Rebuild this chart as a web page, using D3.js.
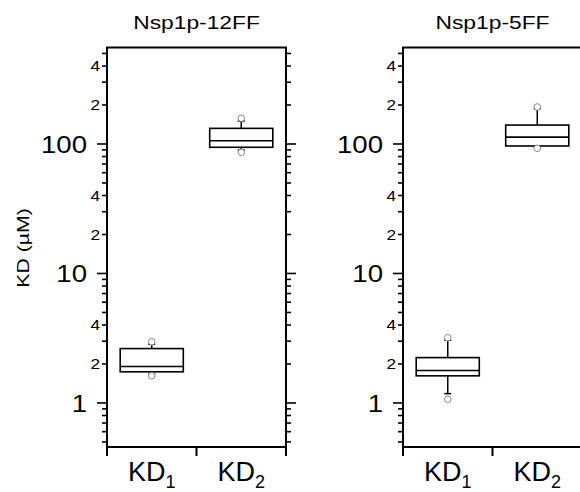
<!DOCTYPE html>
<html>
<head>
<meta charset="utf-8">
<script src="https://cdn.jsdelivr.net/npm/d3@7"></script>
<style>
  html, body { margin: 0; padding: 0; background: #fff; }
  svg { display: block; }
  text { font-family: "Liberation Sans", Arial, Helvetica, sans-serif; fill: #000; }
</style>
</head>
<body>
<svg id="chart" width="580" height="492"></svg>
<script>
// Binding constants measured by titration, shown for two Nsp1p constructs
const panels = ["Nsp1p-12FF", "Nsp1p-5FF"];
const categories = ["KD1", "KD2"];
const categoryLabels = [["KD", "1"], ["KD", "2"]];

// Box statistics per panel, per category:
// [low outlier, lower whisker, Q1, median, Q3, upper whisker, high outlier]
const stats12FF = [
  [1.62, 1.67, 1.74, 1.91, 2.63, 2.84, 2.97],
  [86.3, 89.9, 94.3, 106, 132, 150.6, 158]
];
const stats5FF = [
  [1.07, 1.18, 1.62, 1.78, 2.24, 3.05, 3.19],
  [92.6, 95.3, 96.5, 113, 140, 187, 193]
];
const panelStats = [stats12FF, stats5FF];

// Log axis: limits, decade ticks (large labels), labelled minor ticks, other minor ticks
const yLimits = [0.457, 556];
const majorTicks = [1, 10, 100];
const labelledMinor = [2, 4, 20, 40, 200, 400];
const plainMinor = [0.5, 0.6, 0.7, 0.8, 0.9, 3, 5, 6, 7, 8, 9, 30, 50, 60, 70, 80, 90, 300, 500];
const yTitle = "KD (µM)";

const svg = d3.select("#chart");

const panelLeft = [107, 403];
const panelWidth = 179;
const plotTop = 47.5, plotBottom = 447;

const y = d3.scaleLog().domain(yLimits).range([plotBottom, plotTop]);

// text drawn with a slight horizontal widening
function wideText(g, x, yy, str, size, sx, anchor) {
  return g.append("text")
    .attr("transform", `translate(${x},${yy}) scale(${sx},1)`)
    .attr("text-anchor", anchor)
    .style("font-size", size + "px")
    .text(str);
}

panels.forEach((name, pi) => {
  const x0 = panelLeft[pi], x1 = x0 + panelWidth;
  const g = svg.append("g");
  const x = d3.scaleBand().domain(categories).range([x0, x1]).paddingInner(0).paddingOuter(0);
  const boxW = x.bandwidth() * 0.705;

  // vertical axes with outward ticks
  const tickG = (sideX, dir, withLabels) => {
    const ag = g.append("g");
    const all = [
      ...majorTicks.map(v => ({ v, len: 10, lab: withLabels ? d3.format("d")(v) : null, size: 24 })),
      ...labelledMinor.map(v => ({ v, len: 5, lab: withLabels ? String(v)[0] : null, size: 15 })),
      ...plainMinor.map(v => ({ v, len: 5, lab: null }))
    ];
    all.forEach(d => {
      const yy = y(d.v);
      ag.append("line")
        .attr("x1", sideX).attr("x2", sideX + dir * d.len)
        .attr("y1", yy).attr("y2", yy)
        .attr("stroke", "#000").attr("stroke-width", 1.6);
      if (d.lab) {
        const lx = sideX + dir * (d.size > 20 ? 20 : 7);
        wideText(ag, lx, yy + d.size * 0.36, d.lab, d.size, 1.15, "end");
      }
    });
  };
  tickG(x0, -1, true);
  tickG(x1, 1, false);

  // frame
  g.append("rect")
    .attr("x", x0).attr("y", plotTop)
    .attr("width", panelWidth).attr("height", plotBottom - plotTop)
    .attr("fill", "none").attr("stroke", "#000").attr("stroke-width", 2);

  // bottom axis: ticks at the category boundaries
  const edges = [x0, ...categories.slice(1).map(c => x(c)), x1];
  edges.forEach(ex => {
    g.append("line").attr("x1", ex).attr("x2", ex)
      .attr("y1", plotBottom).attr("y2", plotBottom + 9)
      .attr("stroke", "#000").attr("stroke-width", 2);
  });
  categories.forEach((c, ci) => {
    const cx = x(c) + x.bandwidth() / 2;
    const t = g.append("text")
      .attr("x", cx).attr("y", 481)
      .attr("text-anchor", "middle")
      .style("font-size", "27px");
    t.append("tspan").text(categoryLabels[ci][0]);
    t.append("tspan").attr("dy", 7).style("font-size", "18px").text(categoryLabels[ci][1]);
  });

  // title
  wideText(g, x0 + panelWidth / 2, 29, name, 19, 1.2, "middle");

  // boxes
  panelStats[pi].forEach((s, ci) => {
    const [lo, wlo, q1, med, q3, whi, hi] = s;
    const cx = x(categories[ci]) + x.bandwidth() / 2;
    const bg = g.append("g");
    bg.append("line").attr("x1", cx).attr("x2", cx).attr("y1", y(q3)).attr("y2", y(whi))
      .attr("stroke", "#000").attr("stroke-width", 1.5);
    bg.append("line").attr("x1", cx).attr("x2", cx).attr("y1", y(q1)).attr("y2", y(wlo))
      .attr("stroke", "#000").attr("stroke-width", 1.5);
    [whi, wlo].forEach(v => {
      bg.append("line").attr("x1", cx - 3.5).attr("x2", cx + 3.5).attr("y1", y(v)).attr("y2", y(v))
        .attr("stroke", "#000").attr("stroke-width", 1.5);
    });
    bg.append("rect")
      .attr("x", cx - boxW / 2).attr("y", y(q3))
      .attr("width", boxW).attr("height", y(q1) - y(q3))
      .attr("fill", "none").attr("stroke", "#000").attr("stroke-width", 1.6);
    bg.append("line").attr("x1", cx - boxW / 2).attr("x2", cx + boxW / 2)
      .attr("y1", y(med)).attr("y2", y(med))
      .attr("stroke", "#000").attr("stroke-width", 1.6);
    [lo, hi].forEach(v => {
      bg.append("circle").attr("cx", cx).attr("cy", y(v)).attr("r", 3.3)
        .attr("fill", "#fff").attr("stroke", "#777").attr("stroke-width", 0.9);
    });
  });
});

// y-axis title
svg.append("text")
  .attr("transform", `translate(29,248) rotate(-90) scale(1.25,1)`)
  .attr("text-anchor", "middle")
  .style("font-size", "17px")
  .text(yTitle);
</script>
</body>
</html>
